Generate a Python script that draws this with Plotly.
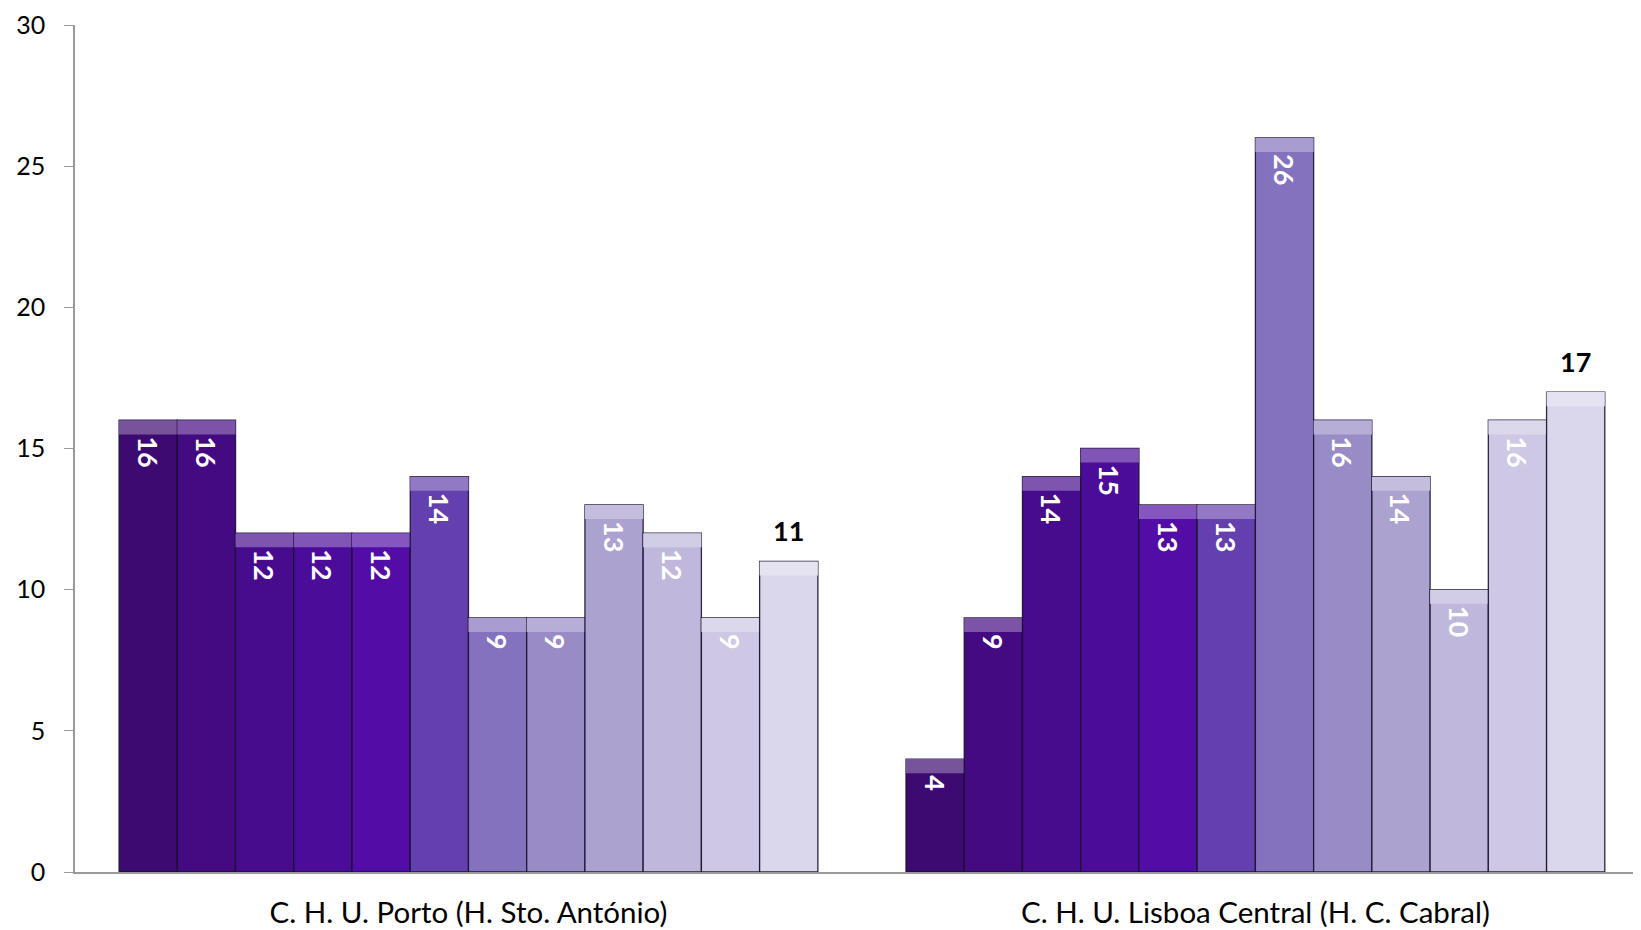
import plotly.graph_objects as go

categories = ["C. H. U. Porto (H. Sto. António)", "C. H. U. Lisboa Central (H. C. Cabral)"]
series_names = [f"Série {i}" for i in range(1, 13)]
porto = [16, 16, 12, 12, 12, 14, 9, 9, 13, 12, 9, 11]
lisboa = [4, 9, 14, 15, 13, 13, 26, 16, 14, 10, 16, 17]
colors = ["#3D0A72", "#430A82", "#470B8E", "#4C0C9A", "#510DA5", "#6440AE",
          "#8572BE", "#998CC6", "#ABA2CF", "#BFB8DC", "#CEC8E4", "#DAD7EC"]
y_ticks = [0, 5, 10, 15, 20, 25, 30]

FONT = "Lato, Noto Sans, sans-serif"
BEVEL = 0.5       # height of the lighter top bevel band (style)
LABEL_LIFT = 0.4  # extra gap above the bars for the outside labels (style)


def lighten(hex_color, f):
    h = hex_color.lstrip("#")
    r, g, b = (int(h[i:i + 2], 16) for i in (0, 2, 4))
    r, g, b = (int(c + (255 - c) * f) for c in (r, g, b))
    return f"rgb({r},{g},{b})"


fig = go.Figure()
n = len(series_names)
for i in range(n):
    vals = [porto[i], lisboa[i]]
    last = i == n - 1
    grp = f"g{i}"
    # main bar body
    fig.add_trace(go.Bar(
        name=series_names[i], x=categories, y=vals, offsetgroup=grp,
        marker=dict(color=colors[i], line=dict(color="rgba(25,15,45,0.9)", width=1.3)),
        hoverinfo="name+y",
    ))
    # lighter bevel at the top of each bar
    fig.add_trace(go.Bar(
        name=series_names[i], x=categories, y=[BEVEL] * 2,
        base=[v - BEVEL for v in vals], offsetgroup=grp,
        marker=dict(color=lighten(colors[i], 0.3), line=dict(width=0)),
        hoverinfo="skip",
    ))
    # value labels (transparent carrier bars)
    fig.add_trace(go.Bar(
        name=series_names[i], x=categories,
        y=[v + LABEL_LIFT for v in vals] if last else vals,
        offsetgroup=grp,
        text=[str(v) if last else "\u00a0\u00a0" + str(v) for v in vals],
        textposition="outside" if last else "inside",
        insidetextanchor="end",
        textangle=0 if last else 90,
        textfont=dict(family=FONT, size=27, color="black" if last else "white", weight="bold"),
        cliponaxis=False,
        marker=dict(color="rgba(0,0,0,0)", line=dict(width=0)),
        hoverinfo="skip",
    ))

fig.update_layout(
    barmode="group",
    bargap=0.112,
    bargroupgap=0,
    width=1641,
    height=930,
    margin=dict(l=67, r=8, t=17, b=66, autoexpand=False),
    plot_bgcolor="white",
    paper_bgcolor="white",
    showlegend=False,
    uniformtext=dict(mode=False),
    font=dict(family=FONT, size=25, color="black"),
    xaxis=dict(
        range=[-0.5, 1.49], automargin=False,
        showline=True, linecolor="#9A9A9A", linewidth=1.5,
        ticks="", showgrid=False, ticklabelstandoff=14,
        ticklabeloverflow="allow",
        tickfont=dict(family=FONT, size=29.5, color="black"),
    ),
    yaxis=dict(
        range=[0, 30], automargin=False,
        tickvals=y_ticks,
        showline=True, linecolor="#9A9A9A", linewidth=1.5,
        ticks="outside", tickcolor="#9A9A9A", ticklen=9,
        showgrid=False, zeroline=False, ticklabelstandoff=14,
        ticklabeloverflow="allow",
        tickfont=dict(family=FONT, size=25, color="black"),
    ),
)

fig.write_html("out.html")
